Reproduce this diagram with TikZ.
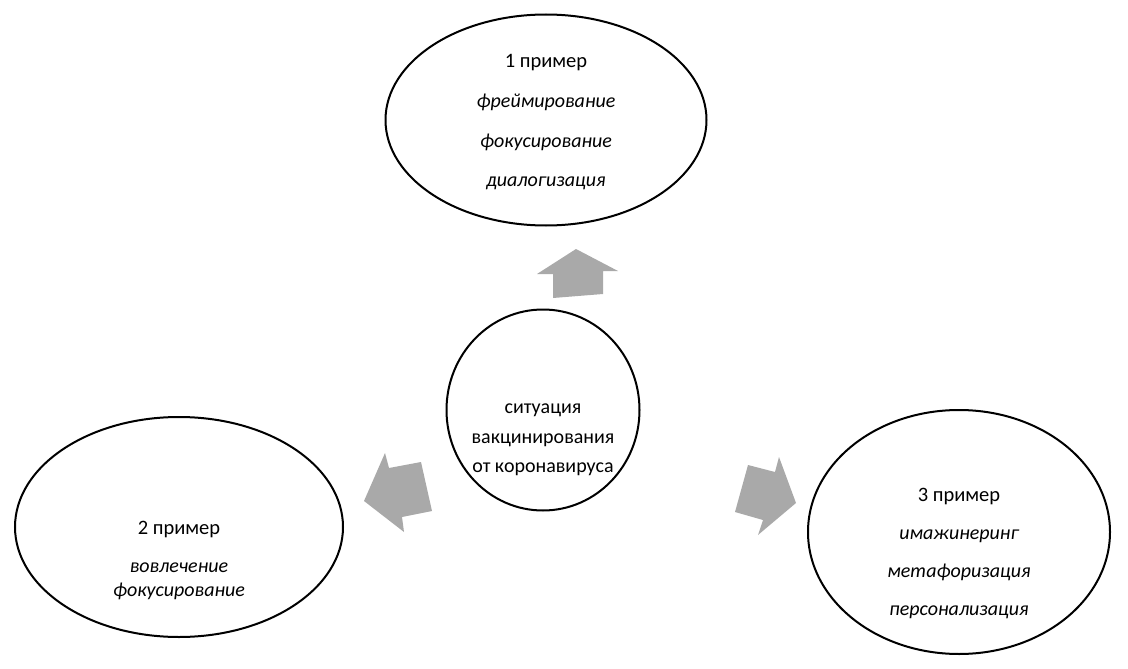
\documentclass[tikz,border=0pt]{standalone}
\usepackage{fontspec}
\setmainfont{Carlito}
\usetikzlibrary{shapes.geometric}
\definecolor{arrowgray}{HTML}{A9A9A9}
\begin{document}
\begin{tikzpicture}[x=1pt,y=-1pt,
  oval/.style={draw,ellipse,line width=2pt,inner sep=0pt,outer sep=0pt},
  txt/.style={font=\fontsize{20.5}{24}\selectfont,inner sep=0pt,anchor=mid},
  ctxt/.style={font=\fontsize{20}{26}\selectfont,inner sep=0pt,anchor=mid},
  itxt/.style={font=\fontsize{20}{24}\selectfont\itshape,inner sep=0pt,anchor=mid},
  garrow/.style={fill=arrowgray,draw=none}]
\useasboundingbox (0,0) rectangle (1128,669);
% ellipses
\node[oval,minimum width=193pt,minimum height=201pt] (c) at (543,410) {};
\node[oval,minimum width=321pt,minimum height=211pt] (e1) at (546,120) {};
\node[oval,minimum width=328pt,minimum height=220pt] (e2) at (179,527) {};
\node[oval,minimum width=302pt,minimum height=244pt] (e3) at (959,532) {};
% texts top
\node[txt] (t1a) at (546,65) {1 пример};
\node[itxt] (t1b) at (546,105) {фреймирование};
\node[itxt] (t1c) at (546,145) {фокусирование};
\node[itxt] (t1d) at (546,184) {диалогизация};
% center
\node[ctxt] (tca) at (543,411) {ситуация};
\node[ctxt] (tcb) at (543,441) {вакцинирования};
\node[ctxt] (tcc) at (543,470) {от коронавируса};
% left
\node[txt] (t2a) at (179,532) {2 пример};
\node[itxt] (t2b) at (179,570) {вовлечение};
\node[itxt] (t2c) at (179,594) {фокусирование};
% right
\node[txt] (t3a) at (959,499) {3 пример};
\node[itxt] (t3b) at (959,537) {имажинеринг};
\node[itxt] (t3c) at (959,575) {метафоризация};
\node[itxt] (t3d) at (959,613) {персонализация};
% arrows
\fill[garrow] (576,249) -- (618,271) -- (603,271) -- (603,294) -- (553,298) -- (553,274) -- (537,274) -- cycle;
\fill[garrow] (364,501) -- (385,453) -- (389,468) -- (421,462) -- (432,511) -- (402,517) -- (404,532) -- cycle;
\fill[garrow] (796,503) -- (779,457) -- (775,472) -- (748,465) -- (735,512) -- (763,520) -- (758,535) -- cycle;
\end{tikzpicture}
\end{document}
